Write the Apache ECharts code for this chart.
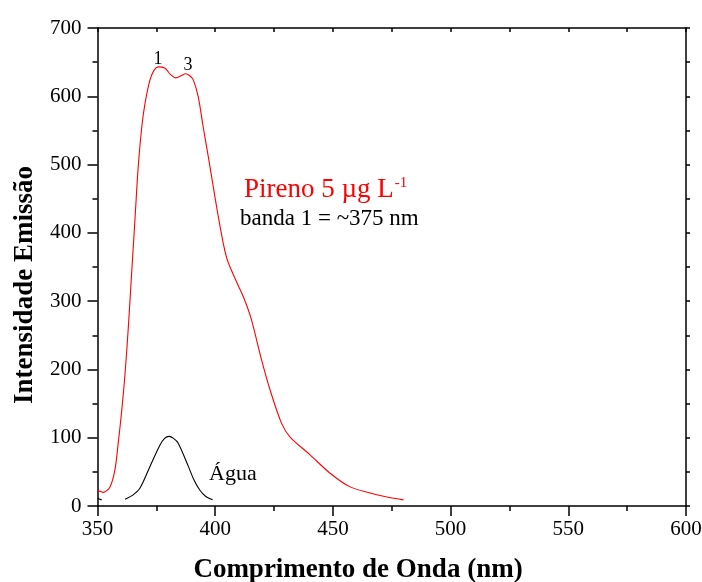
<!DOCTYPE html>
<html>
<head>
<meta charset="utf-8">
<script src="https://cdn.jsdelivr.net/npm/echarts@6/dist/echarts.min.js"></script>
<style>html,body{margin:0;padding:0;background:#fff}#c{width:702px;height:582px}</style>
</head>
<body>
<div id="c"></div>
<script>
// Pireno emission spectrum (red)
const pirenoX = [350, 352.5, 355.3, 357.4, 358.8, 360.3, 361.7, 363.1, 364.5, 365.9, 367.3, 368.8, 370.2, 372.3, 374, 375.8, 378.7, 381, 383.2, 385.5, 387.4, 389.2, 390.7, 392.8, 394.9, 397.1, 399.2, 401.3, 403.4, 404.9, 406.3, 409.1, 412, 415.2, 419.7, 423.3, 428.2, 431.8, 440.3, 448.8, 457.3, 465.8, 472, 480];
const pirenoY = [23, 20, 28, 53, 92, 140, 194, 262, 341, 419, 497, 555, 590, 624, 638, 643, 641, 632, 627, 630, 633, 630, 624, 599, 555, 511, 467, 424, 385, 363, 350, 328, 306, 275, 214, 170, 121, 101, 75, 48, 28, 19, 14, 9];
// Água (water) spectrum (black)
const aguaX = [361.7, 365, 368, 372.3, 376.5, 378.5, 380.4, 382.3, 384.3, 388.6, 391, 393.5, 396, 398.9];
const aguaY = [10, 16, 26, 58, 89, 99, 102, 99, 92, 58, 38, 23, 14, 9];
const aguaStartX = [350, 351.8];
const aguaStartY = [11, 9];
// axis
const xMin = 350, xMax = 600, xStep = 50;
const yMin = 0, yMax = 700, yStep = 100;
const xTitle = 'Comprimento de Onda (nm)';
const yTitle = 'Intensidade Emissão';

const zip = (a, b) => a.map((v, i) => [v, b[i]]);
const FONT = 'Liberation Serif';

const chart = echarts.init(document.getElementById('c'));
chart.setOption({
  animation: false,
  backgroundColor: '#fff',
  grid: { left: 97.5, right: 16, top: 28, bottom: 76, containLabel: false, outerBoundsMode: 'none' },
  textStyle: { fontFamily: FONT },
  xAxis: [{
    type: 'value', min: xMin, max: xMax, interval: xStep, position: 'bottom',
    axisLine: { show: true, onZero: false, lineStyle: { color: '#000', width: 1.5 } },
    axisTick: { show: true, inside: false, length: 10, lineStyle: { color: '#000', width: 1.5 } },
    minorTick: { show: true, splitNumber: 2, length: 5, lineStyle: { color: '#000', width: 1.5 } },
    splitLine: { show: false },
    axisLabel: { color: '#000', fontSize: 21, fontFamily: FONT, margin: 13 }
  }, {
    type: 'value', min: xMin, max: xMax, interval: 25, position: 'top',
    axisLine: { show: true, onZero: false, lineStyle: { color: '#000', width: 1.5 } },
    axisTick: { show: true, inside: true, length: 4, lineStyle: { color: '#000', width: 1.5 } },
    splitLine: { show: false }, axisLabel: { show: false }
  }],
  yAxis: [{
    type: 'value', min: yMin, max: yMax, interval: yStep, position: 'left',
    axisLine: { show: true, onZero: false, lineStyle: { color: '#000', width: 1.5 } },
    axisTick: { show: true, inside: false, length: 10, lineStyle: { color: '#000', width: 1.5 } },
    minorTick: { show: true, splitNumber: 2, length: 5, lineStyle: { color: '#000', width: 1.5 } },
    splitLine: { show: false },
    axisLabel: { color: '#000', fontSize: 21, fontFamily: FONT, margin: 16 }
  }, {
    type: 'value', min: yMin, max: yMax, interval: 50, position: 'right',
    axisLine: { show: true, onZero: false, lineStyle: { color: '#000', width: 1.5 } },
    axisTick: { show: true, inside: false, length: 4, lineStyle: { color: '#000', width: 1.5 } },
    splitLine: { show: false }, axisLabel: { show: false }
  }],
  series: [{
    type: 'line', data: zip(pirenoX, pirenoY), smooth: 0.3, showSymbol: false,
    lineStyle: { color: '#ff0000', width: 1.1 }, silent: true,
    markPoint: {
      symbol: 'circle', symbolSize: 0,
      label: { show: true, position: 'top', color: '#000', fontSize: 18, fontFamily: FONT, distance: -3 },
      data: [
        { coord: [375.7, 646], value: '1', label: { formatter: '1' } },
        { coord: [388.4, 636], value: '3', label: { formatter: '3' } }
      ]
    }
  }, {
    type: 'line', data: zip(aguaX, aguaY), smooth: 0.3, showSymbol: false,
    lineStyle: { color: '#000', width: 1.1 }, silent: true
  }, {
    type: 'line', data: zip(aguaStartX, aguaStartY), showSymbol: false,
    lineStyle: { color: '#000', width: 1.1 }, silent: true
  }],
  graphic: [
    { type: 'text', x: 358, y: 570, style: { text: xTitle, fill: '#000', fontSize: 27, fontWeight: 'bold', fontFamily: FONT, textAlign: 'center', textVerticalAlign: 'middle' } },
    { type: 'text', x: 25, y: 285, rotation: Math.PI / 2, style: { text: yTitle, fill: '#000', fontSize: 27, fontWeight: 'bold', fontFamily: FONT, textAlign: 'center', textVerticalAlign: 'middle' } },
    { type: 'text', left: 244, top: 176, style: {
      text: '{a|Pireno 5 µg L}{s|-1}',
      rich: {
        a: { fill: '#ff0000', fontSize: 27, fontFamily: FONT },
        s: { fill: '#ff0000', fontSize: 15, fontFamily: FONT, verticalAlign: 'top', padding: [0, 0, 12, 1] }
      }
    } },
    { type: 'text', left: 240, top: 207, style: { text: 'banda 1 = ~375 nm', fill: '#000', fontSize: 23, fontFamily: FONT } },
    { type: 'text', left: 209, top: 463, style: { text: 'Água', fill: '#000', fontSize: 22, fontFamily: FONT } }
  ]
});
</script>
</body>
</html>
